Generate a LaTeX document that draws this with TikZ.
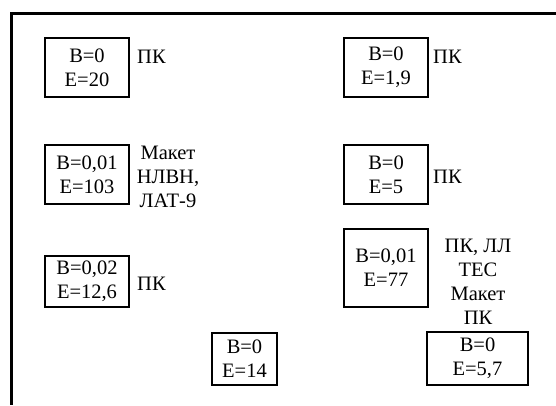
\documentclass[tikz,border=0pt]{standalone}
\usepackage{fontspec}
\setmainfont{Liberation Serif}
\begin{document}
\begin{tikzpicture}[x=1pt,y=-1pt,
  cell/.style={draw, line width=2.6pt, align=center, inner sep=0pt,
    font=\fontsize{20.5}{24}\selectfont},
  note/.style={inner sep=0pt, align=center, font=\fontsize{20.5}{24}\selectfont}]
\useasboundingbox (0,0) rectangle (556,405);
% frame: top and left edges only
\coordinate (ftl) at (11.5,13);
\coordinate (ftr) at (556,13);
\coordinate (fbl) at (11.5,405);
\draw[line width=3pt] (ftr) -- (ftl) -- (fbl);

% left column
\node[cell, minimum width=84pt, minimum height=59pt] (b1) at (87,67.5) {B=0\\E=20};
\node[note, anchor=base west] (l1) at (137,63) {ПК};

\node[cell, minimum width=84pt, minimum height=59pt] (b2) at (87,174.5) {B=0,01\\E=103};
\node[note, anchor=north] (l2) at (168,146) {Макет\\НЛВН,\\ЛАТ-9};

\node[cell, minimum width=84pt, minimum height=51pt] (b3) at (87,281.5) {B=0,02\\E=12,6};
\node[note, anchor=base west] (l3) at (137,290) {ПК};

\node[cell, minimum width=65pt, minimum height=52pt] (b4) at (244.5,359) {B=0\\E=14};

% right column
\node[cell, minimum width=84pt, minimum height=59pt] (b5) at (386,67.5) {B=0\\E=1,9};
\node[note, anchor=base west] (l5) at (433,63) {ПК};

\node[cell, minimum width=84pt, minimum height=59pt] (b6) at (386,174.5) {B=0\\E=5};
\node[note, anchor=base west] (l6) at (433,183) {ПК};

\node[cell, minimum width=84pt, minimum height=78pt] (b7) at (386,268) {B=0,01\\E=77};
\node[note, anchor=north] (l7) at (478,239) {ПК, ЛЛ\\ТЕС\\Макет\\ПК};

\node[cell, minimum width=101pt, minimum height=53pt] (b8) at (477.5,358.5) {B=0\\E=5,7};
\end{tikzpicture}
\end{document}
